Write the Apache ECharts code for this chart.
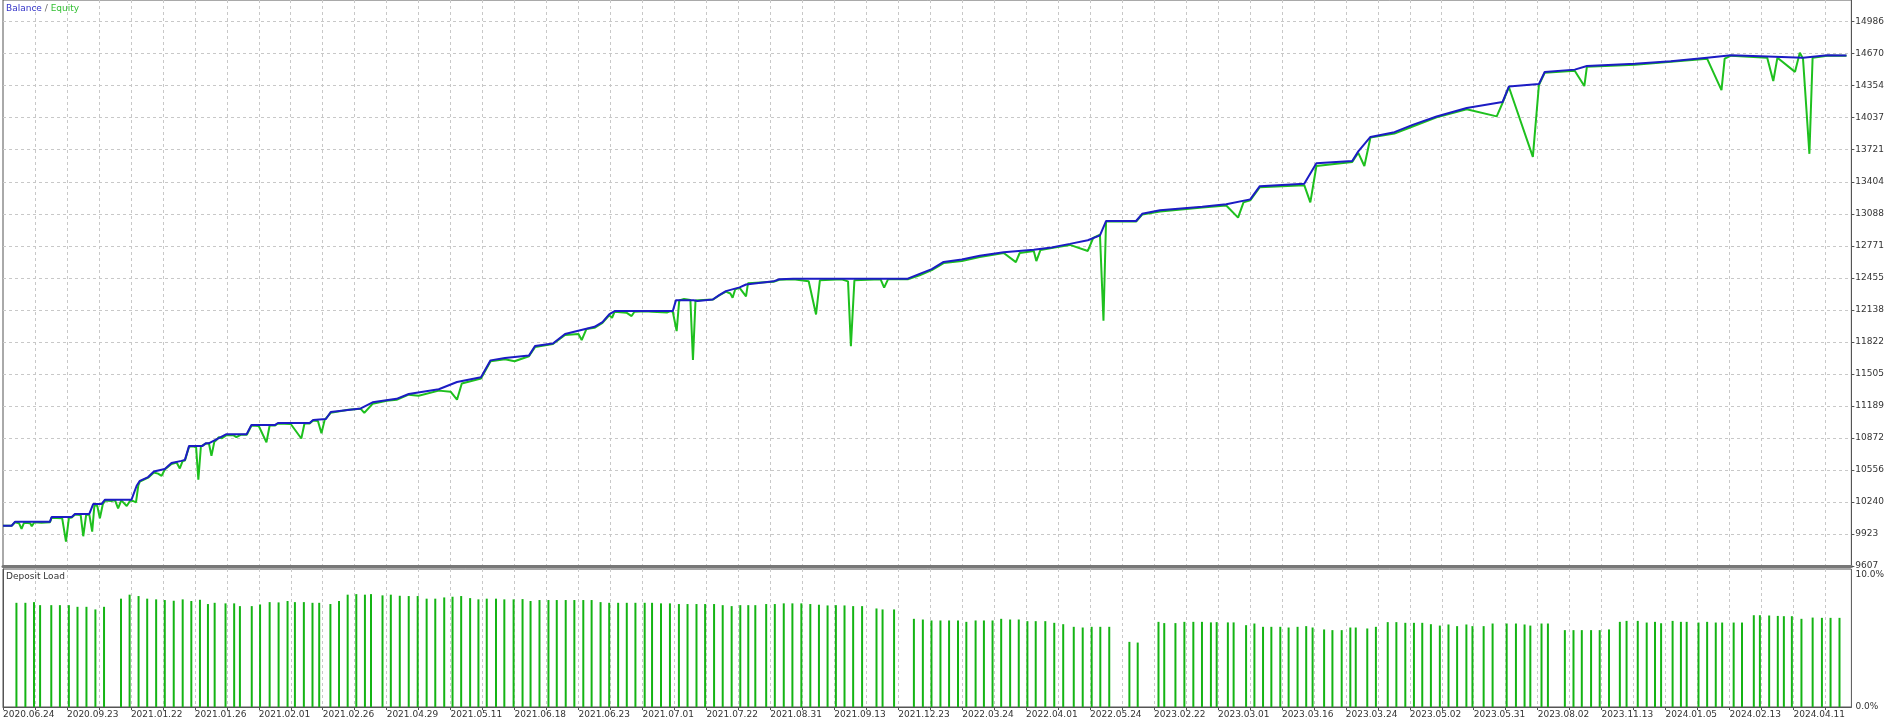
<!DOCTYPE html>
<html>
<head>
<meta charset="utf-8">
<script src="https://cdn.jsdelivr.net/npm/echarts@6/dist/echarts.min.js"></script>
<style>
html,body{margin:0;padding:0;background:#fff;}
#chart{width:1887px;height:722px;}
</style>
</head>
<body>
<div id="chart"></div>
<script>
// x axis: deal position (10 units per vertical grid column); tick labels every 2 columns
const xLabels = ['2020.06.24','2020.09.23','2021.01.22','2021.01.26','2021.02.01','2021.02.26','2021.04.29','2021.05.11','2021.06.18','2021.06.23','2021.07.01','2021.07.22','2021.08.31','2021.09.13','2021.12.23','2022.03.24','2022.04.01','2022.05.24','2023.02.22','2023.03.01','2023.03.16','2023.03.24','2023.05.02','2023.05.31','2023.08.02','2023.11.13','2024.01.05','2024.02.13','2024.04.11'];
const yLabels = ['9607','9923','10240','10556','10872','11189','11505','11822','12138','12455','12771','13088','13404','13721','14037','14354','14670','14986'];
const yMin = 9607, yStep = 316.41, yMax = 15200;
const xMax = 578.125;

const balance = [[0,10005],[2.7,10005],[3.8,10045],[14.7,10045],[15.2,10091],[21.5,10091],[22.5,10121],[27,10121],[28.2,10219],[30.8,10219],[31.9,10262],[40.2,10262],[41.8,10400],[42.8,10449],[45.4,10486],[47.2,10540],[50.6,10565],[52.7,10624],[55.8,10646],[56.9,10656],[58.2,10794],[62.4,10794],[63.4,10821],[64.5,10821],[69.9,10910],[76.2,10910],[77.7,11000],[85,11000],[86,11020],[95.9,11020],[97,11050],[101,11060],[102.5,11129],[111.9,11164],[115.6,11224],[123.1,11259],[126.9,11307],[136.3,11354],[142,11425],[149.5,11473],[152.5,11639],[157,11663],[164.5,11686],[166.4,11781],[172,11805],[175.8,11900],[185,11971],[187.5,12017],[189.6,12093],[191.3,12126],[209.5,12126],[210.5,12234],[216,12234],[217.2,12225],[222,12240],[224,12283],[226.1,12323],[230.4,12360],[232.4,12389],[232.9,12408],[241,12420],[242.8,12440],[247.2,12446],[283,12446],[286.7,12494],[290.5,12541],[294.2,12612],[299.9,12636],[305.5,12672],[313,12707],[322.4,12731],[328,12755],[333.7,12790],[339.3,12826],[343.1,12874],[345,13016],[354.4,13016],[356.3,13087],[361.9,13123],[375.1,13158],[382.6,13182],[390.1,13230],[393.1,13360],[407,13384],[410.8,13586],[422,13609],[423.9,13704],[427.7,13847],[435.2,13894],[440.9,13966],[448.4,14049],[457.8,14132],[469,14191],[471,14345],[480.4,14369],[482.2,14488],[491.6,14512],[495.4,14547],[510.4,14571],[521.7,14595],[533,14630],[540.5,14654],[551.8,14642],[563,14630],[570.6,14654],[576.6,14651]];

const equity = [[0,10005],[2.7,10005],[3.8,10040],[5,10030],[5.8,9973],[6.6,10035],[8.5,10030],[9,10000],[9.8,10040],[12,10035],[14.7,10040],[15.2,10085],[18.5,10080],[19.7,9848],[20.6,10080],[21.5,10085],[22.5,10115],[24.3,10110],[25.1,9901],[26,10110],[27,10115],[27.9,9946],[28.6,10210],[29.5,10200],[30.3,10078],[31.2,10215],[31.9,10255],[34,10250],[35,10260],[36,10177],[37,10255],[38.7,10200],[39.8,10255],[40.6,10250],[41.6,10236],[42.3,10400],[42.8,10440],[45.4,10480],[47.2,10530],[48.5,10520],[49.6,10498],[50.6,10560],[52.7,10615],[54.3,10630],[55.3,10571],[56.2,10645],[56.9,10650],[58.2,10785],[59.5,10790],[60.4,10780],[61.1,10459],[61.9,10790],[62.4,10785],[63.4,10815],[64.4,10820],[65.2,10695],[66.1,10835],[66.8,10853],[67.5,10880],[68.5,10870],[69.9,10900],[72,10900],[73,10880],[74.5,10905],[76.3,10905],[77.7,10995],[80,10990],[82.4,10828],[83.4,10995],[85,10995],[86,11015],[90,11010],[93.3,10867],[94.3,11015],[95.9,11015],[97,11045],[98.5,11040],[99.6,10919],[100.6,11050],[102.5,11120],[108,11150],[111.9,11160],[113,11120],[115.6,11210],[120,11240],[123.1,11250],[126.9,11300],[130,11290],[136.3,11340],[140,11330],[142,11250],[143.5,11410],[149.5,11460],[152.5,11630],[157,11650],[160,11630],[164.5,11680],[166.4,11770],[172,11800],[175.8,11890],[180,11900],[181,11840],[182.5,11950],[185,11960],[187.5,12010],[189.6,12085],[190.5,12060],[191.3,12120],[195,12110],[196.6,12077],[197.5,12120],[201,12125],[203,12120],[207.8,12113],[208.8,12125],[209.5,12120],[210.7,11928],[211.5,12230],[213,12245],[215,12235],[215.8,11642],[216.6,12230],[219,12235],[222,12240],[224,12280],[226.1,12318],[227.5,12300],[228.2,12258],[229,12340],[230.4,12355],[232.4,12271],[233,12400],[241,12415],[242.8,12435],[247.2,12440],[252,12420],[254.3,12093],[255.5,12430],[262.3,12440],[264.3,12420],[265.2,11780],[266.3,12430],[274.5,12440],[275.6,12357],[276.8,12440],[283,12440],[286.7,12480],[290.5,12530],[294.2,12600],[299.9,12620],[305.5,12660],[313,12700],[316.8,12610],[318,12700],[322.4,12720],[323.2,12620],[324.5,12730],[328,12750],[333.7,12780],[339.3,12720],[341,12850],[343.1,12880],[344.2,12030],[345,13010],[354.4,13010],[356.3,13080],[361.9,13110],[375.1,13150],[382.6,13170],[386.3,13050],[388,13200],[390.1,13220],[393.1,13350],[407,13370],[408.9,13200],[410.8,13560],[422,13600],[423.9,13690],[425.8,13560],[427.7,13840],[435.2,13880],[440.9,13950],[448.4,14040],[457.8,14120],[467.2,14050],[469,14180],[471,14340],[478.5,13650],[480.4,14360],[482.2,14480],[491.6,14500],[494.6,14350],[495.4,14540],[510.4,14560],[521.7,14590],[533,14620],[537.5,14310],[538.5,14620],[540.5,14650],[551.8,14630],[553.7,14400],[555,14630],[560.5,14490],[562,14680],[563,14620],[565,13680],[566,14630],[570.6,14650],[576.6,14650]];

const loadX = [4.2,7.0,9.7,11.6,15.1,17.8,20.6,23.3,26.1,28.9,31.6,36.9,39.6,42.4,45.1,47.9,50.6,53.4,56.2,58.9,61.6,64.1,66.2,69.6,72.3,74.1,77.8,80.4,83.4,86.2,89.0,91.3,94.1,96.8,98.9,102.4,105.1,107.8,110.5,113.2,115.1,118.7,121.3,124.1,126.9,129.7,132.5,135.2,138.0,140.6,143.3,146.1,148.7,151.3,154.2,156.8,159.7,162.5,165.0,167.8,170.6,173.2,176.0,178.7,181.5,184.1,186.9,189.6,192.4,195.1,197.8,200.7,203.0,205.8,208.6,211.4,214.1,216.9,219.6,222.4,225.1,227.9,230.6,233.1,235.3,238.7,241.4,244.2,246.9,249.7,252.5,255.2,257.9,260.5,263.2,265.9,268.7,273.2,275.1,278.7,284.9,287.7,290.4,293.2,295.9,298.7,301.3,304.2,306.8,309.5,312.2,315.0,317.7,320.4,323.0,326.0,328.8,331.6,334.9,337.7,340.5,343.2,346.0,352.3,354.9,361.4,363.2,366.7,369.5,372.3,375.0,377.8,379.6,383.1,384.9,388.8,391.4,394.1,396.7,399.5,402.1,404.9,407.6,409.6,413.2,415.8,418.7,421.4,423.1,426.7,429.4,433.1,435.8,438.6,441.3,443.9,446.6,449.4,452.1,454.8,457.7,459.6,463.1,465.9,470.3,473.2,475.9,477.7,481.2,483.2,488.5,491.2,493.8,496.7,499.4,502.3,505.7,507.8,511.3,514.1,516.7,518.6,522.2,524.8,526.6,530.3,533.0,535.7,537.7,541.3,543.9,547.6,549.5,552.4,555.1,557.0,559.5,562.5,566.0,568.9,571.6,574.4];
const loadPct = [7.55,7.55,7.60,7.38,7.38,7.38,7.38,7.26,7.26,7.07,7.26,7.85,8.14,8.04,7.85,7.80,7.75,7.70,7.80,7.68,7.77,7.46,7.55,7.51,7.51,7.31,7.31,7.43,7.60,7.58,7.68,7.60,7.60,7.55,7.55,7.46,7.68,8.14,8.18,8.14,8.18,8.09,8.14,8.06,8.04,8.04,7.85,7.85,7.94,7.99,8.04,7.89,7.80,7.85,7.85,7.80,7.80,7.82,7.68,7.75,7.75,7.75,7.75,7.75,7.75,7.75,7.60,7.55,7.55,7.55,7.55,7.55,7.55,7.51,7.51,7.46,7.46,7.46,7.46,7.46,7.38,7.31,7.38,7.38,7.38,7.46,7.46,7.51,7.51,7.51,7.46,7.41,7.36,7.38,7.36,7.31,7.31,7.14,7.07,7.07,6.39,6.34,6.27,6.27,6.27,6.27,6.17,6.27,6.27,6.27,6.39,6.34,6.34,6.22,6.22,6.22,6.10,6.00,5.81,5.76,5.81,5.81,5.81,4.72,4.67,6.17,6.08,6.08,6.17,6.17,6.17,6.13,6.15,6.13,6.13,5.93,6.05,5.81,5.81,5.81,5.76,5.81,5.86,5.76,5.62,5.57,5.57,5.76,5.76,5.69,5.81,6.15,6.15,6.10,6.10,6.10,6.00,5.90,5.98,5.86,5.98,5.86,5.86,6.05,6.05,6.05,5.98,5.90,6.05,6.05,5.57,5.57,5.57,5.57,5.57,5.62,6.17,6.24,6.24,6.12,6.17,6.07,6.24,6.17,6.17,6.12,6.17,6.12,6.12,6.12,6.12,6.65,6.65,6.63,6.60,6.58,6.58,6.39,6.48,6.46,6.46,6.46];

const chart = echarts.init(document.getElementById('chart'), null, {renderer:'canvas'});
const font = '"DejaVu Sans", Tahoma, sans-serif';
const fs = 9;
const grid = {color:'#c8c8c8', type:[3,3], width:1};
const gridCommonX = {type:'value', min:0, max:xMax, interval:10};

chart.setOption({
  animation:false,
  backgroundColor:'#ffffff',
  grid:[
    {left:3, right:34, top:0, height:566, show:true, borderColor:'#555', borderWidth:1, backgroundColor:'#fff'},
    {left:3, right:34, top:569, height:138, show:true, borderColor:'#555', borderWidth:1, backgroundColor:'#fff'}
  ],
  xAxis:[
    Object.assign({gridIndex:0, axisLine:{show:true, lineStyle:{color:'#777', width:3}}, axisTick:{show:false}, axisLabel:{show:false},
      splitLine:{show:true, lineStyle:grid, showMinLine:false, showMaxLine:false}}, gridCommonX),
    Object.assign({gridIndex:1, axisLine:{show:true, lineStyle:{color:'#555', width:1}},
      axisTick:{show:true, length:3, lineStyle:{color:'#555'}},
      axisLabel:{show:true, align:'left', margin:3, color:'#333', fontSize:fs, fontFamily:font,
        showMaxLabel:false,
        formatter:function(v){ const i=Math.round(v/10); if(i%2!==0) return ''; const k=i/2; return xLabels[k]||''; }},
      splitLine:{show:true, lineStyle:grid, showMinLine:false, showMaxLine:false}}, gridCommonX)
  ],
  yAxis:[
    {gridIndex:0, type:'value', min:yMin, max:yMax, show:false, splitLine:{show:false}},
    {gridIndex:0, type:'value', position:'right', min:0, max:(yMax-yMin)/yStep, interval:1,
      axisLine:{show:true, lineStyle:{color:'#555'}}, axisTick:{show:true, length:3, lineStyle:{color:'#555'}},
      axisLabel:{show:true, color:'#333', fontSize:fs, fontFamily:font, margin:4, showMaxLabel:false,
        formatter:function(v){ return yLabels[Math.round(v)]||''; }},
      splitLine:{show:true, lineStyle:grid, showMinLine:false, showMaxLine:false}},
    {gridIndex:1, type:'value', position:'right', min:0, max:10, interval:10,
      axisLine:{show:true, lineStyle:{color:'#555'}}, axisTick:{show:false},
      axisLabel:{show:true, color:'#333', fontSize:fs, fontFamily:font, margin:4,
        formatter:function(v){ return v>=10 ? '{t|10.0%}' : '{b|0.0%}'; },
        rich:{t:{padding:[12,0,0,0], fontSize:fs, fontFamily:font, color:'#333'}, b:{fontSize:fs, fontFamily:font, color:'#333'}}},
      splitLine:{show:false}}
  ],
  series:[
    {name:'Equity', type:'line', xAxisIndex:0, yAxisIndex:0, data:equity, showSymbol:false, symbol:'none',
      lineStyle:{color:'#1ec01e', width:2}, z:2},
    {name:'Balance', type:'line', xAxisIndex:0, yAxisIndex:0, data:balance, showSymbol:false, symbol:'none',
      lineStyle:{color:'#1c1cc4', width:2}, z:3},
    {name:'Deposit Load', type:'bar', xAxisIndex:1, yAxisIndex:2, barWidth:2,
      data:loadX.map(function(x,i){return [x, loadPct[i]];}),
      itemStyle:{color:'#14b414'}}
  ],
  graphic:[
    {type:'text', left:6, top:4, z:100, style:{text:'{b|Balance} {s|/} {e|Equity}', font:fs+'px '+font,
      rich:{b:{fill:'#3434c8', fontSize:fs, fontFamily:font}, s:{fill:'#666', fontSize:fs, fontFamily:font}, e:{fill:'#34c034', fontSize:fs, fontFamily:font}}}},
    {type:'text', left:6, top:572, z:100, style:{text:'Deposit Load', fill:'#333', font:fs+'px '+font}}
  ]
});
</script>
</body>
</html>
